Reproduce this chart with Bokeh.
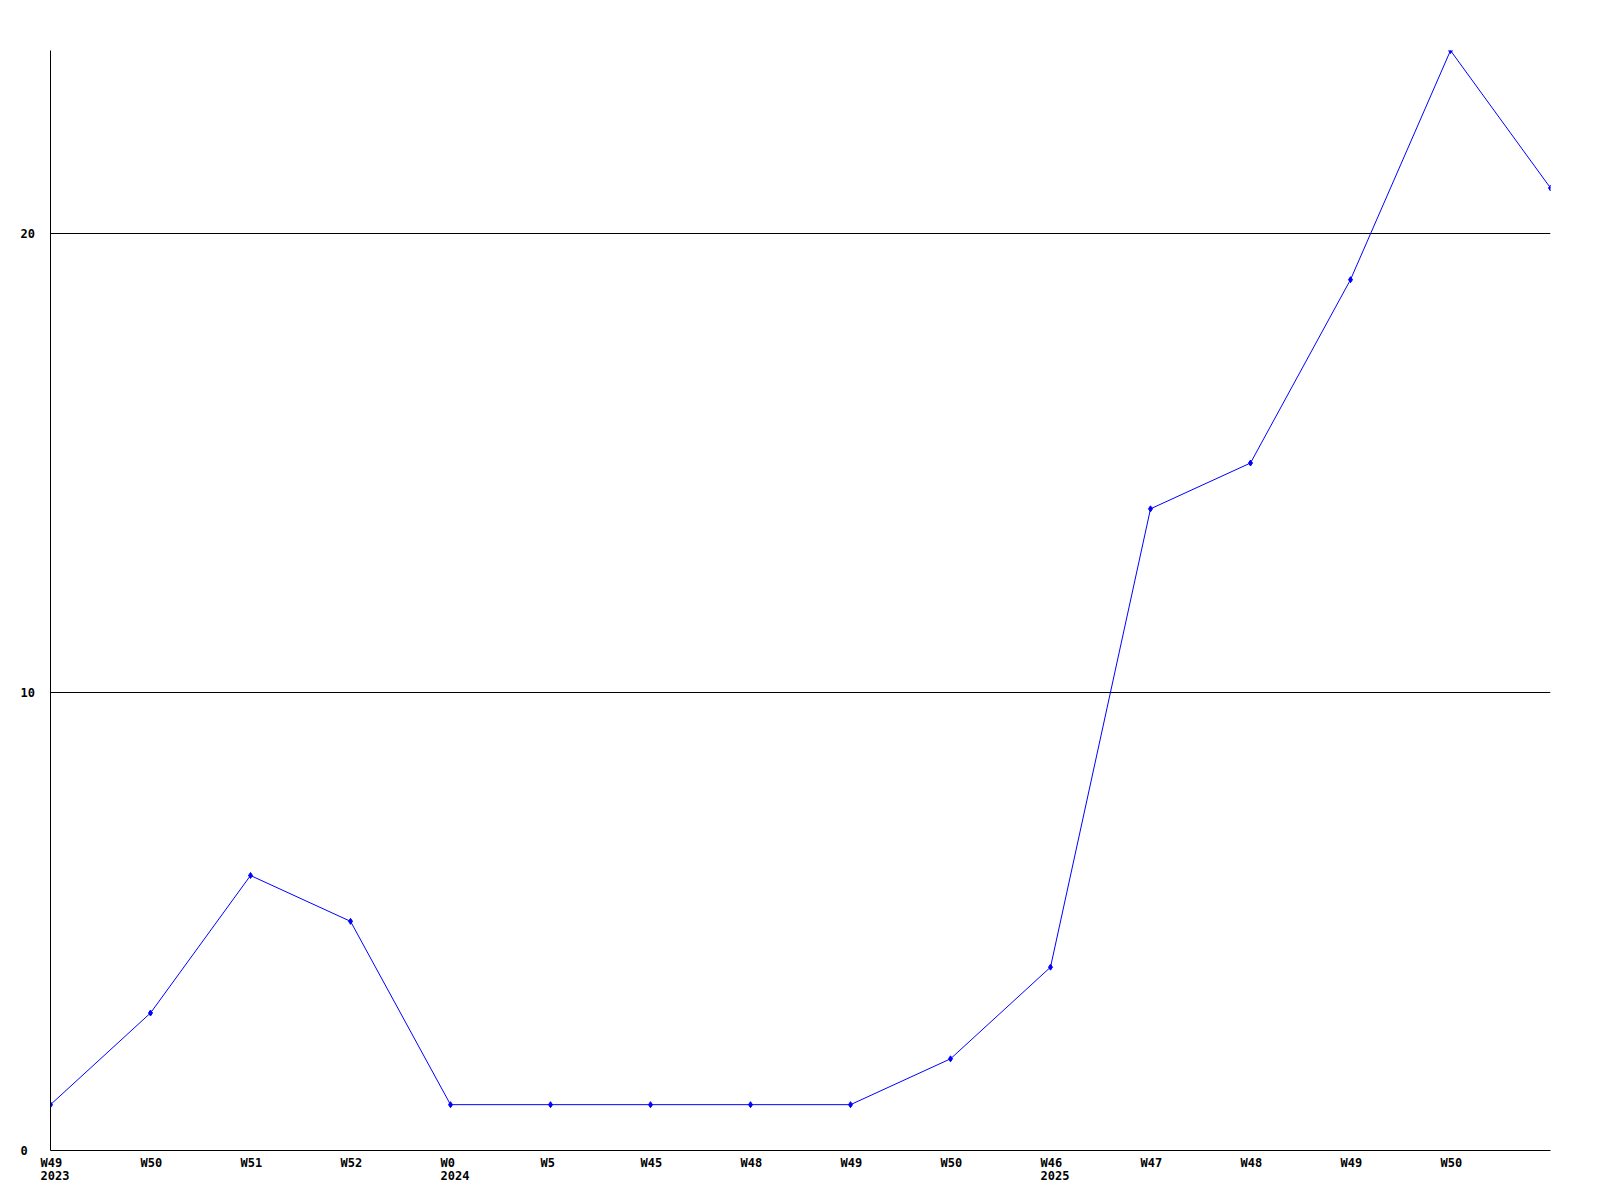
from bokeh.plotting import figure
from bokeh.models import Range1d, FixedTicker, ColumnDataSource
from bokeh.core.properties import value
from bokeh.embed import file_html
from bokeh.resources import INLINE

weeks = ["W49", "W50", "W51", "W52", "W0", "W5", "W45", "W48", "W49", "W50",
         "W46", "W47", "W48", "W49", "W50", ""]
years = ["2023", "", "", "", "2024", "", "", "", "", "", "2025", "", "", "", "", ""]
values = [1, 3, 6, 5, 1, 1, 1, 1, 1, 2, 4, 14, 15, 19, 24, 21]
y_ticks = [0, 10, 20]
y_tick_labels = ["0", "10", "20"]

idx = list(range(len(values)))
FONT = "DejaVu Sans Mono"
FSIZE = "12px"
n = len(values) - 1

p = figure(frame_width=1500, frame_height=1100, output_backend="svg",
           toolbar_location=None, x_range=Range1d(0, n),
           y_range=Range1d(0, 24),
           min_border_left=50, min_border_top=50, min_border_right=10,
           min_border_bottom=40)
p.outline_line_color = None
p.background_fill_color = "white"
p.border_fill_color = "white"

p.xgrid.grid_line_color = None
p.ygrid.grid_line_color = "black"
p.ygrid.grid_line_width = 1
p.ygrid.ticker = FixedTicker(ticks=y_ticks)

for ax in (p.xaxis, p.yaxis):
    ax.ticker = FixedTicker(ticks=[])
    ax.axis_line_color = "black"
    ax.major_tick_line_color = None
    ax.minor_tick_line_color = None
    ax.major_tick_out = 0
    ax.major_tick_in = 0
    ax.major_label_standoff = 0
    ax.major_label_text_font_size = "0px"

p.line(idx, values, line_color="#0000ff", line_width=1)
p.scatter(idx, values, marker="diamond", size=6, color="#0000ff")

txt = dict(text_font=value(FONT), text_font_style="bold", text_font_size=FSIZE,
           text_color="black", level="overlay")

# x tick labels: left-aligned, 10px left of each point, below the axis
src = ColumnDataSource(dict(x=idx, base=[0] * len(idx), w=weeks, yr=years))
p.text("x", "base", text="w", source=src, x_offset=-10, y_offset=5,
       text_align="left", text_baseline="top", **txt)
p.text("x", "base", text="yr", source=src, x_offset=-10, y_offset=20,
       text_align="left", text_baseline="top", **txt)

# y tick labels: left-aligned in the left margin
ysrc = ColumnDataSource(dict(x=[0] * len(y_ticks), y=y_ticks, t=y_tick_labels))
p.text("x", "y", text="t", source=ysrc, x_offset=-30, y_offset=0,
       text_align="left", text_baseline="middle", **txt)

open("out.html", "w").write(file_html(p, INLINE))
